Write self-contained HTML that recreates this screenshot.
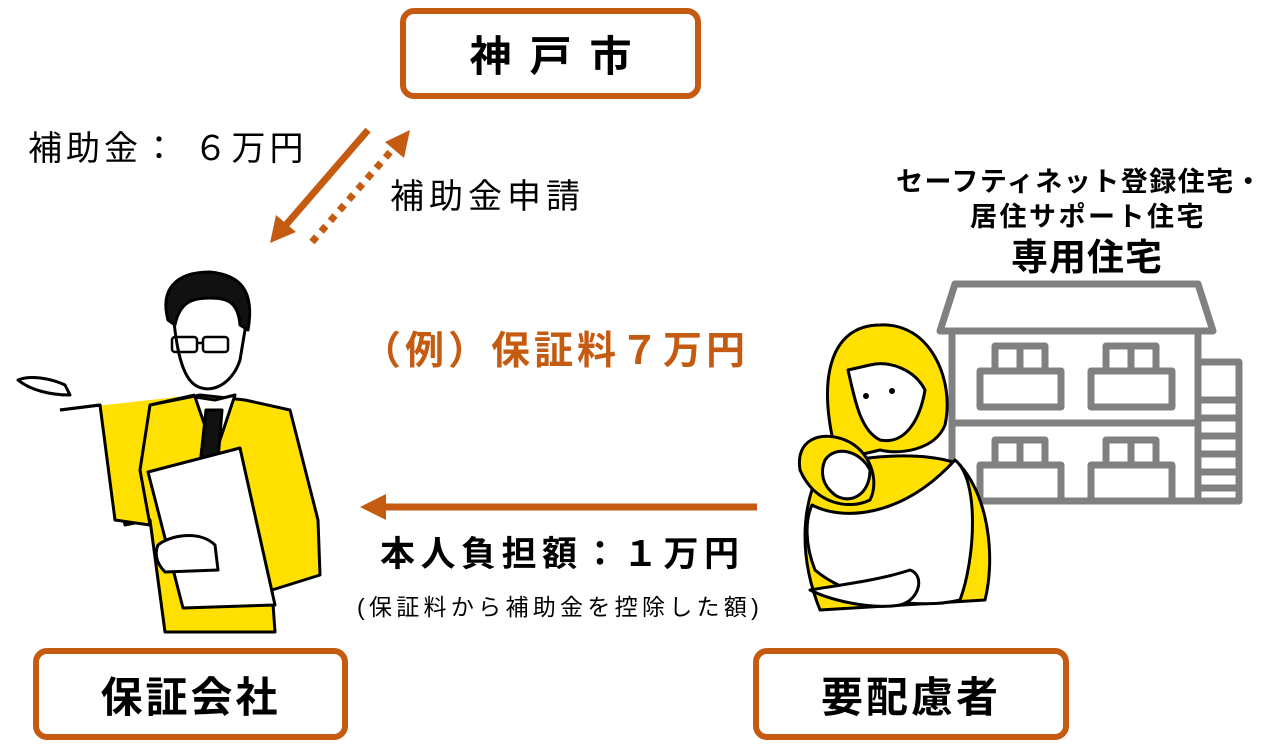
<!DOCTYPE html>
<html><head><meta charset="utf-8"><style>
html,body{margin:0;padding:0;background:#fff}
body{width:1287px;height:751px;position:relative;overflow:hidden;font-family:"Liberation Sans","Noto Sans CJK JP",sans-serif}
.t{position:absolute;white-space:nowrap;line-height:1}
.box{position:absolute;border:6px solid #C55A11;border-radius:14px;box-sizing:border-box;display:flex;align-items:center;justify-content:center;font-weight:bold;font-size:42px;color:#000}
</style></head><body>
<svg width="1287" height="751" style="position:absolute;left:0;top:0">
<line x1="368" y1="130" x2="285" y2="226" stroke="#C55A11" stroke-width="7"/>
<polygon points="270,243 276,215 296,232" fill="#C55A11"/>
<line x1="312" y1="242" x2="392" y2="150" stroke="#C55A11" stroke-width="7" stroke-dasharray="7,7"/>
<polygon points="410,130 404,158 385,142" fill="#C55A11"/>
<line x1="757" y1="507" x2="382" y2="507" stroke="#C55A11" stroke-width="7"/>
<polygon points="360,507 386,494 386,520" fill="#C55A11"/>
<g stroke="#808080" stroke-width="7" fill="none" stroke-linejoin="round">
<polygon points="955,284 1198,284 1213,331 940,331"/>
<rect x="952" y="331" width="246" height="170"/>
<line x1="952" y1="423" x2="1198" y2="423"/>
<rect x="1198" y="362" width="41" height="139"/>
<line x1="1198" y1="400" x2="1239" y2="400"/><line x1="1198" y1="418" x2="1239" y2="418"/><line x1="1198" y1="436" x2="1239" y2="436"/><line x1="1198" y1="454" x2="1239" y2="454"/><line x1="1198" y1="472" x2="1239" y2="472"/><line x1="1198" y1="488" x2="1239" y2="488"/>
<rect x="995" y="346" width="50" height="25"/><line x1="1020" y1="346" x2="1020" y2="371"/>
<rect x="980" y="371" width="81" height="36"/>
<rect x="1106" y="346" width="50" height="25"/><line x1="1131" y1="346" x2="1131" y2="371"/>
<rect x="1091" y="371" width="81" height="36"/>
<rect x="995" y="440" width="50" height="25"/><line x1="1020" y1="440" x2="1020" y2="465"/>
<rect x="980" y="465" width="81" height="36"/>
<rect x="1106" y="440" width="50" height="25"/><line x1="1131" y1="440" x2="1131" y2="465"/>
<rect x="1091" y="465" width="81" height="36"/>
</g>
<g stroke="#000" stroke-width="3" stroke-linejoin="round">
<path d="M838,460 C815,380 830,325 880,325 C930,322 955,380 945,425 C935,450 900,455 880,450 Z" fill="#FFE000"/>
<path d="M848,370 C855,400 860,430 880,440 C905,445 920,420 925,390 C915,370 890,360 870,365 Z" fill="#fff"/>
<path d="M820,470 C850,455 930,450 960,465 C990,500 995,560 985,600 L820,610 C800,560 800,510 820,470 Z" fill="#FFE000"/>
<path d="M812,505 C840,520 900,520 955,460 C980,480 975,560 960,600 C920,610 850,600 815,570 C805,545 805,520 812,505 Z" fill="#fff"/>
<path d="M810,590 C840,585 880,580 910,570 C925,575 920,600 900,605 C870,610 830,600 810,590 Z" fill="#fff"/>
<path d="M800,470 C795,440 820,430 845,440 C870,450 880,480 870,500 C850,510 815,505 800,470 Z" fill="#FFE000"/>
<path d="M825,460 C835,445 860,450 870,470 C870,495 850,505 835,495 C822,485 820,472 825,460 Z" fill="#fff"/>
</g>
<circle cx="866" cy="396" r="3"/><circle cx="892" cy="391" r="3"/>
<g stroke="#000" stroke-width="3" stroke-linejoin="round">
<path d="M60,410 L100,405 L125,525 L150,520 L165,632 L275,632 L272,590 L320,575 L318,520 L290,410 L245,400 L200,395 L150,405 L125,470 L100,405" fill="#FFE000"/>
<path d="M60,410 L100,405 L115,520 L150,525 L140,470 L150,405 L195,395" fill="#FFE000"/>
<path d="M195,397 L215,400 L235,395 L215,455 Z" fill="#fff"/>
<path d="M206,410 L222,410 L218,460 L200,465 Z" fill="#111"/>
<path d="M172,300 C168,285 190,275 215,280 C240,285 250,300 245,330 L240,360 C232,385 210,395 195,385 C180,375 175,340 172,300 Z" fill="#fff"/>
<path d="M168,320 C160,290 175,272 210,272 C240,275 255,290 248,330 L240,325 C238,300 225,298 210,298 C195,298 180,300 175,325 Z" fill="#111"/>
<path d="M148,472 L240,448 L275,605 L183,608 Z" fill="#fff"/>
<path d="M158,545 C170,535 200,530 215,545 L218,570 L165,572 C155,562 155,552 158,545 Z" fill="#fff"/>
<path d="M18,380 C30,375 50,378 65,385 L70,395 C50,395 30,390 18,380 Z" fill="#fff"/>
</g>
<g stroke="#000" stroke-width="2.5" fill="none"><rect x="172" y="337" width="25" height="15" rx="3"/><rect x="203" y="337" width="25" height="15" rx="3"/><line x1="197" y1="343" x2="203" y2="343"/></g>
</svg>

<div class="box" style="left:400px;top:8px;width:301px;height:91px;letter-spacing:18px;padding-left:18px">神戸市</div>
<div class="box" style="left:33px;top:648px;width:315px;height:92px;letter-spacing:3px">保証会社</div>
<div class="box" style="left:753px;top:648px;width:316px;height:92px;letter-spacing:3px">要配慮者</div>

<div class="t" style="left:28px;top:132px;font-size:34px;letter-spacing:4px">補助金： ６万円</div>
<div class="t" style="left:390px;top:180px;font-size:34px;letter-spacing:5px">補助金申請</div>
<div class="t" style="left:362px;top:332px;font-size:39px;font-weight:bold;color:#C55A11;letter-spacing:4px">（例）保証料７万円</div>
<div class="t" style="left:380px;top:537px;font-size:35px;font-weight:bold;letter-spacing:5.5px">本人負担額：１万円</div>
<div class="t" style="left:357px;top:596px;font-size:23px;letter-spacing:4.3px">(保証料から補助金を控除した額)</div>
<div class="t" style="left:896px;top:169px;font-size:27px;font-weight:bold;letter-spacing:1.5px">セーフティネット登録住宅・</div>
<div class="t" style="left:970px;top:204px;font-size:27px;font-weight:bold;letter-spacing:2.5px">居住サポート住宅</div>
<div class="t" style="left:1011px;top:239px;font-size:37px;font-weight:bold;letter-spacing:1px">専用住宅</div>
</body></html>
